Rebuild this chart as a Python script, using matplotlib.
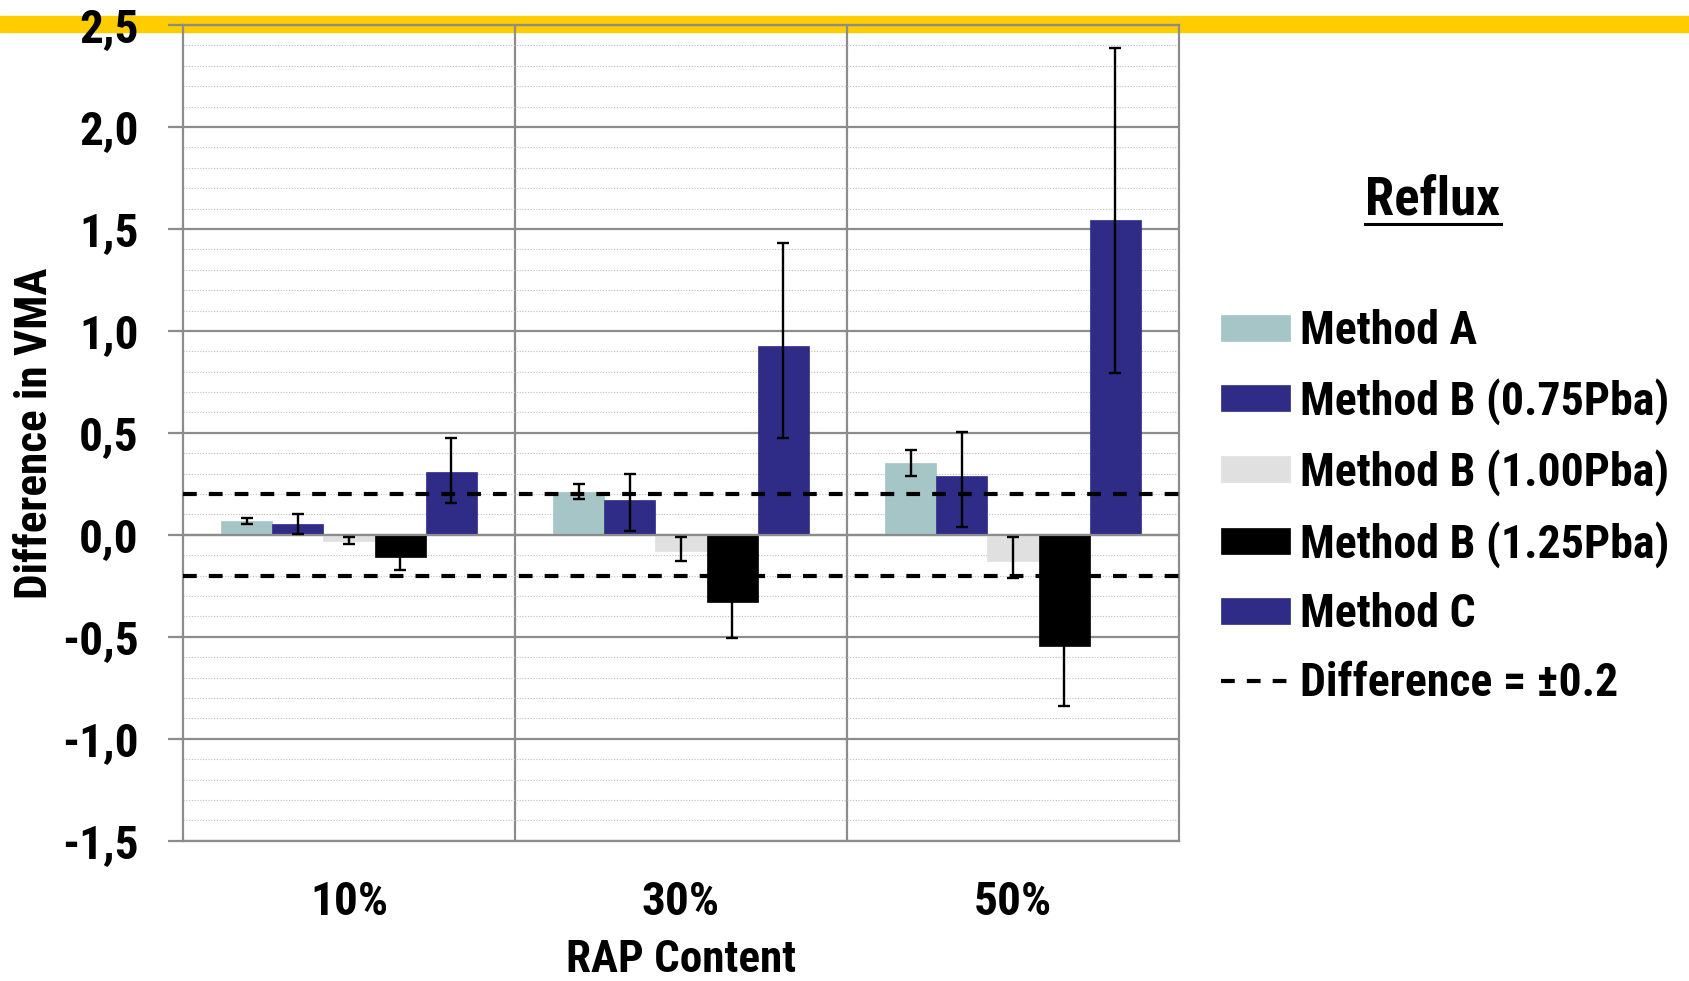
import matplotlib
matplotlib.use("Agg")
import numpy as np
import matplotlib.pyplot as plt
from matplotlib.ticker import MultipleLocator, FixedLocator, FuncFormatter
from matplotlib.patches import Rectangle
from matplotlib.lines import Line2D

# RAP content categories
categories = ["10%", "30%", "50%"]

# bar values (difference in VMA)
method_a = [0.070, 0.209, 0.352]
method_b075 = [0.054, 0.172, 0.289]
method_b100 = [-0.028, -0.077, -0.127]
method_b125 = [-0.110, -0.328, -0.543]
method_c = [0.308, 0.927, 1.544]

# error bars (minus, plus)
err_a = [[0.016, 0.035, 0.063], [0.014, 0.038, 0.064]]
err_b075 = [[0.048, 0.151, 0.253], [0.046, 0.128, 0.213]]
err_b100 = [[0.016, 0.053, 0.083], [0.016, 0.065, 0.116]]
err_b125 = [[0.061, 0.178, 0.295], [0.061, 0.178, 0.295]]
err_c = [[0.151, 0.452, 0.749], [0.169, 0.504, 0.841]]

limit = 0.2

series = [
    ("Method A", method_a, err_a, "#a6c5c7"),
    ("Method B (0.75Pba)", method_b075, err_b075, "#2e2c87"),
    ("Method B (1.00Pba)", method_b100, err_b100, "#e0e0e0"),
    ("Method B (1.25Pba)", method_b125, err_b125, "#000000"),
    ("Method C", method_c, err_c, "#2e2c87"),
]

plt.rcParams['font.family'] = ['Liberation Sans Narrow', 'Noto Sans Condensed',
                               'Roboto Condensed', 'Noto Sans', 'DejaVu Sans']
plt.rcParams['font.weight'] = 'bold'
plt.rcParams['font.stretch'] = 'condensed'
plt.rcParams['axes.labelweight'] = 'bold'

grid_col = "#8c8c8c"

fig = plt.figure(figsize=(16.9, 9.81), dpi=100)
fig.patch.set_facecolor("white")
# yellow header band
fig.patches.append(Rectangle((0, 0.9674), 1, 0.0163, transform=fig.transFigure,
                             color="#ffcc00", zorder=-1))

ax = fig.add_axes([0.1083, 0.143, 0.5893, 0.8315])
ax.set_facecolor("none")

x = np.arange(len(categories))
width = 0.154
for i, (name, vals, err, col) in enumerate(series):
    ax.bar(x + (i - 2) * width, vals, width, color=col, label=name,
           edgecolor=col, linewidth=0.5, zorder=3,
           yerr=err, error_kw=dict(ecolor="black", elinewidth=1.7,
                                   capsize=4.5, capthick=1.7, zorder=5))

ax.axhline(0, color=grid_col, lw=1.6, zorder=3.5)
ax.axhline(limit, color="black", lw=3, ls=(0, (3.3, 2.9)), zorder=4,
           label="Difference = \u00b10.2")
ax.axhline(-limit, color="black", lw=3, ls=(0, (3.3, 2.9)), zorder=4)

ax.set_xlim(-0.5, 2.5)
ax.set_ylim(-1.5, 2.5)

ax.yaxis.set_major_locator(MultipleLocator(0.5))
ax.yaxis.set_minor_locator(MultipleLocator(0.1))
ax.yaxis.set_major_formatter(FuncFormatter(lambda v, p: f"{v:.1f}".replace(".", ",")))
ax.set_xticks(x, categories)
ax.xaxis.set_minor_locator(FixedLocator([0.5, 1.5]))

ax.set_axisbelow(True)
ax.yaxis.grid(True, which="major", color=grid_col, lw=1.6)
ax.yaxis.grid(True, which="minor", color="#bdbdbd", lw=0.8, ls=(0, (1, 1.5)))
ax.xaxis.grid(True, which="minor", color=grid_col, lw=1.6)

for s in ax.spines.values():
    s.set_color(grid_col)
    s.set_linewidth(1.6)

ax.tick_params(axis="y", which="major", length=11, width=1.6, color=grid_col,
               pad=21, labelsize=34)
ax.tick_params(axis="y", which="minor", length=0)
ax.tick_params(axis="x", which="both", length=0, pad=28, labelsize=34)

ax.set_xlabel("RAP Content", fontsize=32.5, labelpad=11)
ax.set_ylabel("Difference in VMA", fontsize=32.5, va="center")
ax.yaxis.set_label_coords(-0.149, 0.5)

handles, labels = ax.get_legend_handles_labels()
order = [1, 2, 3, 4, 5, 0]
leg = ax.legend([handles[k] for k in order], [labels[k] for k in order],
                loc="upper left", bbox_to_anchor=(0.7225, 0.685),
                bbox_transform=fig.transFigure, frameon=False, fontsize=33,
                handlelength=1.5, handleheight=0.50, handletextpad=0.22,
                labelspacing=0.535, borderaxespad=0, borderpad=0)

title = fig.text(1433 / 1690, 1 - 200 / 981, "Reflux", fontsize=38,
                 ha="center", va="center")
fig.canvas.draw()
bb = title.get_window_extent().transformed(fig.transFigure.inverted())
fig.lines.append(Line2D([bb.x0, bb.x1], [bb.y0 + 0.002, bb.y0 + 0.002],
                        transform=fig.transFigure, color="black", lw=2.2))

fig.savefig("out.png", dpi=100)
